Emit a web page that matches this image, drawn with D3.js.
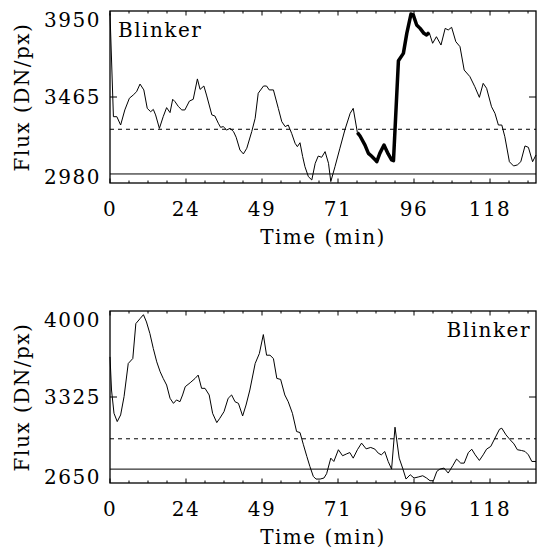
<!DOCTYPE html>
<html>
<head>
<meta charset="utf-8">
<script src="https://cdn.jsdelivr.net/npm/d3@7"></script>
<style>
  body { margin: 0; background: #fff; }
  svg text { font-family: "DejaVu Serif", "Liberation Serif", serif; font-size: 20px; letter-spacing: 1.5px; fill: #000; }
</style>
</head>
<body>
<div id="chart"></div>
<script>
//Time axis: ticks sit on frame numbers, labels are the times (min)
const timeTickFrames = [0, 20, 40, 60, 80, 100];
const timeTickLabels = ['0', '24', '49', '71', '96', '118'];
const frameMax = 112.1;

//Top panel (frame, flux)
const topFrames = [0, 0.9, 1.8, 2.8, 3.9, 5.1, 6.1, 7.0, 7.9, 8.9, 9.8, 10.7, 11.4, 12.0, 13.0, 14.0, 14.9, 15.8, 16.5, 17.1,
	18.0, 18.9, 19.7, 20.9, 21.9, 23.0, 23.7, 24.7, 25.4, 26.8, 27.6, 28.5, 29.1, 29.8, 30.7, 31.6, 32.5, 33.2, 34.2, 35.1,
	36.0, 37.3, 38.2, 39.0, 40.4, 41.2, 41.9, 43.0, 44.3, 45.2, 46.1, 46.9, 47.8, 48.7, 49.3, 50.0, 50.7, 51.3, 52.2, 53.1,
	54.0, 54.8, 55.7, 56.6, 57.5, 58.1, 59.2, 60.5, 61.8, 63.2, 64.0, 65.1, 65.8, 67.1, 68.0, 68.8, 69.7, 70.2, 71.0, 72.1,
	73.2, 74.1, 74.6, 75.9, 77.2, 78.1, 79.2, 79.8, 80.7, 81.6, 82.6, 83.3, 84.0, 84.9, 85.9, 87.1, 88.2, 89.0, 89.9, 91.0,
	92.1, 93.2, 94.7, 96.0, 97.2, 98.2, 99.1, 100.4, 101.3, 102.2, 103.1, 103.9, 105.1, 106.2, 107.2, 108.1, 109.2, 110.1, 111.2, 112.1];
const topFlux = [3937, 3354, 3354, 3307, 3392, 3458, 3476, 3495, 3538, 3505, 3401, 3382, 3395, 3364, 3288, 3354, 3405, 3377, 3452, 3439,
	3411, 3392, 3392, 3442, 3452, 3567, 3508, 3527, 3476, 3364, 3358, 3317, 3294, 3298, 3279, 3288, 3270, 3238, 3166, 3144,
	3176, 3270, 3345, 3486, 3527, 3527, 3505, 3505, 3400, 3326, 3298, 3307, 3260, 3204, 3185, 3207, 3129, 3072, 3016, 2997,
	3091, 3132, 3125, 3157, 3091, 2988, 3072, 3176, 3279, 3373, 3401, 3264, 3245, 3194, 3147, 3132, 3113, 3100, 3147, 3194,
	3144, 3110, 3106, 3670, 3711, 3824, 3933, 3928, 3871, 3852, 3824, 3815, 3828, 3768, 3805, 3758, 3852, 3843, 3858, 3777,
	3749, 3617, 3580, 3523, 3463, 3542, 3514, 3410, 3373, 3307, 3307, 3241, 3100, 3076, 3082, 3100, 3189, 3181, 3100, 3138];
const topBlinker = [65.1, 84.0];
const topYTicks = [2980, 3465, 3950];
const topDashed = 3283;
const topSolid = 3031;

//Bottom panel (frame, flux)
const bottomFrames = [0, 0.4, 1.05, 1.9, 2.8, 3.7, 4.8, 6.0, 6.8, 7.9, 8.8, 9.6, 10.5, 11.4, 12.3, 13.2, 14.0, 14.9, 15.8, 16.7,
	17.5, 18.4, 19.1, 19.8, 21.1, 22.4, 23.2, 24.1, 25.0, 26.1, 27.0, 28.1, 28.9, 30.0, 31.1, 32.0, 32.9, 33.8, 34.9, 35.8,
	36.8, 38.2, 39.3, 40.35, 41.2, 42.1, 43.0, 43.9, 44.9, 46.0, 46.9, 48.0, 49.1, 50.0, 50.9, 51.8, 52.6, 53.5, 54.2, 55.3,
	56.3, 57.0, 58.1, 58.9, 60.1, 61.2, 62.3, 63.1, 64.0, 65.1, 66.2, 67.4, 68.6, 69.7, 70.6, 71.4, 72.3, 73.2, 74.1, 75.0,
	76.1, 77.0, 77.9, 79.0, 80.0, 81.1, 82.3, 83.3, 84.2, 85.1, 86.0, 86.8, 87.9, 89.0, 90.2, 91.2, 92.3, 93.2, 94.3, 95.2,
	96.1, 97.2, 98.2, 99.1, 100.2, 101.3, 102.5, 103.1, 104.2, 105.3, 106.3, 107.2, 108.3, 109.2, 110.1, 111.0, 112.1];
const bottomFlux = [3640, 3380, 3197, 3132, 3184, 3328, 3588, 3627, 3901, 3940, 3971, 3914, 3823, 3705, 3601, 3523, 3471, 3419, 3315, 3275,
	3302, 3288, 3341, 3406, 3437, 3471, 3497, 3393, 3393, 3341, 3197, 3124, 3158, 3210, 3315, 3341, 3288, 3275, 3176, 3262,
	3380, 3588, 3666, 3815, 3653, 3653, 3627, 3471, 3463, 3341, 3288, 3197, 3054, 3046, 2950, 2858, 2780, 2702, 2681, 2681,
	2689, 2723, 2845, 2819, 2911, 2864, 2879, 2889, 2845, 2911, 2963, 2918, 2929, 2916, 2884, 2871, 2897, 2819, 2759, 3088,
	2845, 2767, 2681, 2715, 2689, 2697, 2707, 2689, 2668, 2668, 2741, 2759, 2767, 2728, 2786, 2838, 2806, 2806, 2889, 2915,
	2871, 2827, 2871, 2916, 2937, 3002, 3072, 3080, 3028, 2989, 2957, 2911, 2905, 2898, 2871, 2819, 2819];
const bottomYTicks = [2650, 3325, 4000];
const bottomDashed = 2997;
const bottomSolid = 2759;

const W = 539, H = 549;
const svg = d3.select('#chart').append('svg')
	.attr('width', W)
	.attr('height', H);

renderPanel({top: 11, frames: topFrames, flux: topFlux, yTicks: topYTicks, dashed: topDashed, solid: topSolid,
	blinker: topBlinker, labelAlign: 'left'});
renderPanel({top: 311, frames: bottomFrames, flux: bottomFlux, yTicks: bottomYTicks, dashed: bottomDashed, solid: bottomSolid,
	blinker: null, labelAlign: 'right'});

function renderPanel(p){
	const left = 110, right = 536, h = 172;
	const bottom = p.top + h;
	const g = svg.append('g');

	const x = d3.scaleLinear().domain([0, frameMax]).range([left, right]);
	const y = d3.scaleLinear().domain([p.yTicks[0], p.yTicks[2]]).range([bottom, p.top]);

	const pts = p.frames.map((f, i) => [f, p.flux[i]]);
	const line = d3.line().x(d => x(d[0])).y(d => y(d[1]));

	//Reference levels
	g.append('line')
		.attr('x1', left).attr('x2', right)
		.attr('y1', y(p.dashed)).attr('y2', y(p.dashed))
		.style('stroke', '#000').style('stroke-width', 1)
		.style('stroke-dasharray', '4,4');
	g.append('line')
		.attr('x1', left).attr('x2', right)
		.attr('y1', y(p.solid)).attr('y2', y(p.solid))
		.style('stroke', '#000').style('stroke-width', 1);

	//Light curve
	g.append('path')
		.datum(pts)
		.attr('d', line)
		.style('fill', 'none')
		.style('stroke', '#000')
		.style('stroke-width', 1)
		.style('stroke-linejoin', 'round');

	//Blinker event in bold
	if(p.blinker){
		g.append('path')
			.datum(pts.filter(d => d[0] >= p.blinker[0] && d[0] <= p.blinker[1]))
			.attr('d', line)
			.style('fill', 'none')
			.style('stroke', '#000')
			.style('stroke-width', 3.5)
			.style('stroke-linejoin', 'round');
	}

	//Frame
	g.append('rect')
		.attr('x', left).attr('y', p.top)
		.attr('width', right - left).attr('height', h)
		.style('fill', 'none')
		.style('stroke', '#000')
		.style('stroke-width', 1.3);

	//x ticks on bottom and top
	const minor = d3.range(0, frameMax, 5);
	[[bottom, -1], [p.top, 1]].forEach(function(edge){
		g.selectAll(null)
			.data(minor)
			.enter()
			.append('line')
			.attr('x1', d => x(d)).attr('x2', d => x(d))
			.attr('y1', edge[0])
			.attr('y2', d => edge[0] + edge[1] * (d % 20 === 0 ? 4.5 : 2.5))
			.style('stroke', '#000').style('stroke-width', 1);
	});

	//x tick labels
	g.selectAll(null)
		.data(timeTickFrames)
		.enter()
		.append('text')
		.attr('x', d => x(d))
		.attr('y', bottom + 33)
		.attr('text-anchor', 'middle')
		.text((d, i) => timeTickLabels[i]);

	//y ticks on left and right
	[[left, 1], [right, -1]].forEach(function(edge){
		g.append('line')
			.attr('x1', edge[0]).attr('x2', edge[0] + edge[1] * 7)
			.attr('y1', y(p.yTicks[1])).attr('y2', y(p.yTicks[1]))
			.style('stroke', '#000').style('stroke-width', 1);
	});

	//y tick labels
	const yOffsets = [1, 7, 16];
	g.selectAll(null)
		.data(p.yTicks)
		.enter()
		.append('text')
		.attr('x', 101)
		.attr('y', (d, i) => y(d) + yOffsets[i])
		.attr('text-anchor', 'end')
		.text(d => d);

	//Axis titles
	g.append('text')
		.attr('x', (left + right) / 2)
		.attr('y', bottom + 61)
		.attr('text-anchor', 'middle')
		.text('Time (min)');

	g.append('text')
		.attr('transform', `translate(29,${p.top + h / 2}) rotate(-90)`)
		.attr('text-anchor', 'middle')
		.text('Flux (DN/px)');

	//Event label
	g.append('text')
		.attr('x', p.labelAlign === 'left' ? 118 : 531)
		.attr('y', p.top + 26)
		.attr('text-anchor', p.labelAlign === 'left' ? 'start' : 'end')
		.text('Blinker');
}
</script>
</body>
</html>
